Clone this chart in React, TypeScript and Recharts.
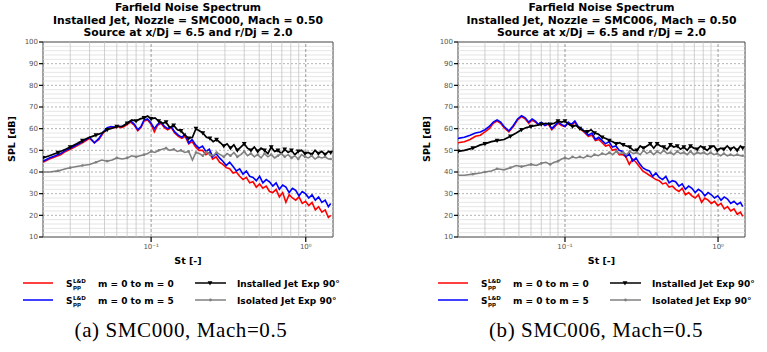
import React from "react";
import { LineChart, Line, XAxis, YAxis, ReferenceLine, ReferenceArea } from "recharts";

// Strouhal numbers of the computed (narrowband) spectra
const ST_SIM = [
  0.02, 0.022, 0.024, 0.026, 0.028, 0.03, 0.032, 0.034, 0.036, 0.038, 0.04, 0.043, 0.046, 0.049,
  0.052, 0.055, 0.058, 0.061, 0.064, 0.067, 0.07, 0.074, 0.078, 0.082, 0.086, 0.09, 0.095, 0.1,
  0.105, 0.11, 0.116, 0.122, 0.128, 0.135, 0.142, 0.15, 0.158, 0.166, 0.175, 0.184, 0.194, 0.204,
  0.215, 0.226, 0.238, 0.25, 0.263, 0.277, 0.291, 0.306, 0.322, 0.339, 0.356, 0.374, 0.393, 0.413,
  0.434, 0.456, 0.479, 0.503, 0.528, 0.555, 0.583, 0.612, 0.643, 0.675, 0.709, 0.744, 0.781, 0.82,
  0.861, 0.904, 0.949, 0.996, 1.046, 1.098, 1.153, 1.211, 1.271, 1.335, 1.4, 1.45,
];

// Strouhal numbers of the measured spectra
const ST_EXP = [
  0.02, 0.022, 0.025, 0.028, 0.03, 0.033, 0.036, 0.04, 0.044, 0.048, 0.052, 0.056, 0.06, 0.065,
  0.07, 0.075, 0.08, 0.085, 0.09, 0.095, 0.1, 0.106, 0.112, 0.118, 0.125, 0.132, 0.14, 0.148,
  0.156, 0.165, 0.175, 0.185, 0.195, 0.205, 0.216, 0.228, 0.24, 0.252, 0.265, 0.28, 0.295, 0.31,
  0.326, 0.343, 0.361, 0.38, 0.4, 0.42, 0.442, 0.465, 0.489, 0.514, 0.541, 0.569, 0.598, 0.629,
  0.661, 0.695, 0.731, 0.769, 0.808, 0.85, 0.894, 0.94, 0.988, 1.039, 1.092, 1.148, 1.207, 1.269,
  1.334, 1.402, 1.45,
];

// SMC000
const SMC000_M0 = [
  44.5, 46, 47, 48, 49.5, 50.5, 51.5, 52.5, 53.5, 54.5, 55.5, 53.5, 55, 58, 60, 60.5, 60.5, 61,
  60.5, 61, 62, 63, 61.5, 59, 60.5, 63.5, 64, 62, 58.5, 61.5, 62.5, 60.5, 59.5, 60.5, 58, 56.5,
  55.5, 56.5, 53, 54, 51.5, 50, 50, 48, 49, 46, 47, 44.5, 43.5, 42, 41.5, 39.5, 40, 38, 36.5, 37.5,
  35, 35.5, 33, 34.5, 32.5, 33.5, 31, 30.5, 32, 28.5, 30.5, 26, 29.5, 28, 27, 28.5, 25.5, 26.5,
  24.5, 26, 22.5, 24, 21.5, 22.5, 19, 20,
];
const SMC000_M5 = [
  45, 46.5, 47.5, 48.5, 50, 51, 52, 53, 54, 55, 56, 53.5, 55.5, 58.5, 60.5, 61, 60.8, 61.2, 60.9,
  61.5, 62.5, 63.5, 62, 59.5, 61, 64, 64.5, 62.5, 60, 62, 63, 61, 60, 61, 58.5, 57, 56, 57.5, 53.5,
  55, 52.5, 51, 52, 49.5, 50.5, 47, 48.5, 46.5, 45, 43, 44.5, 42.5, 40.5, 41.5, 39, 40.5, 38, 37.5,
  36, 38, 35, 36.5, 35.5, 33.5, 35, 32, 34, 33, 30.5, 32.5, 31.5, 29, 31, 30, 28, 29.5, 27, 28.5,
  26, 27, 24, 25.5,
];
const SMC000_INSTALLED = [
  46.5, 47.5, 49, 50.5, 51.5, 53, 54.5, 56, 57, 58, 59.5, 60.2, 61, 61, 62.5, 64, 63.5, 64.5, 65,
  65.8, 64.5, 65, 63.5, 62.5, 63, 60.5, 61.5, 59.5, 59, 57, 55.5, 56, 60, 59, 58, 56, 55.5, 54, 55,
  53.5, 52, 53, 51, 52.5, 50, 51.5, 53, 51, 50, 51.5, 49.5, 51, 50, 48.5, 51.5, 49.5, 50, 48.5,
  50.5, 49, 50, 48, 49.5, 50, 48.5, 49, 48, 50, 48.5, 49.5, 48, 49.5, 49,
];
const SMC000_ISOLATED = [
  40, 40, 40.5, 41.5, 42, 42.5, 43, 43.5, 44.5, 45.5, 45, 45.5, 46.5, 46, 46.5, 47.5, 47, 47.5, 48,
  48.5, 49.5, 49, 50, 50.5, 51, 50, 50.5, 49.5, 50, 49, 49.5, 45.5, 49, 48.5, 47.5, 49.5, 48, 47.5,
  49, 48, 47, 48.5, 47.5, 49, 47, 48, 49.5, 47.5, 48.5, 47, 48, 46.5, 48.5, 47, 48, 46.5, 47.5,
  48.5, 47, 48, 46.5, 47.5, 46, 48, 47, 46.5, 47.5, 46, 47, 46.5, 47, 46, 46,
];

// SMC006
const SMC006_M0 = [
  53.5, 54, 55, 56.5, 57, 58.5, 60, 62.5, 63.5, 62.5, 60.5, 58.5, 61, 64, 65.5, 64.5, 62.5, 64, 63,
  62, 62.5, 61.5, 62, 59.5, 61, 62.5, 61.5, 61, 62.5, 61.5, 63, 60.5, 59.5, 58, 56.5, 57, 54.5, 55,
  53.5, 52, 52.5, 50, 50.5, 48, 48, 47, 43.5, 46, 44.5, 42.5, 40.5, 39.5, 38.5, 37.5, 36.5, 36,
  34.5, 35, 33, 33.5, 32, 31, 32.5, 29.5, 30.5, 29, 28, 29.5, 26, 28, 27, 25.5, 26.5, 24.5, 25.5,
  23, 24, 22, 23, 20.5, 21.5, 19.5,
];
const SMC006_M5 = [
  55.5, 56, 57, 58, 58.5, 59.5, 61, 63, 64, 63, 61, 59, 61.5, 64.5, 66, 65, 63, 64.5, 63.5, 62, 63,
  61.5, 62.5, 60, 61.5, 63, 62, 61, 63, 62, 63.5, 61, 60, 58.5, 57, 58, 55, 56, 54.5, 53, 54, 51.5,
  52, 50, 49.5, 47, 48.5, 45, 46.5, 44, 42, 41, 40.5, 38, 39.5, 37.5, 36.5, 38, 35, 36, 35.5, 33.5,
  34.5, 32, 33.5, 32.5, 30.5, 32, 31, 29, 30.5, 29.5, 28, 29, 27, 28.5, 27.5, 25.5, 26.5, 25, 26,
  24,
];
const SMC006_INSTALLED = [
  49.5, 50, 51, 52.5, 53, 54, 54.5, 55, 56.5, 58, 59.5, 60.5, 61, 61.5, 62, 62.5, 62, 62.5, 63.5,
  63, 63.5, 62, 61, 61.5, 60, 59, 58.5, 59.5, 58, 57.5, 56, 55.5, 54.5, 54, 53, 53.5, 52.5, 52,
  51.5, 50, 50, 52, 51, 52, 53, 51, 53, 52, 51.5, 50.5, 52.5, 51.5, 52, 50.5, 51.5, 50, 52, 51,
  50.5, 52, 51, 50, 51.5, 52, 50, 51, 50.5, 52, 50.5, 51.5, 50, 52, 51,
];
const SMC006_ISOLATED = [
  38.5, 38.5, 39, 39.5, 40, 40.5, 41.5, 41, 42, 43, 42.5, 43, 43.5, 43, 44, 44.5, 43.5, 44.5, 45,
  46, 46.5, 46, 47, 46.5, 47, 46.5, 47.5, 47, 48, 47.5, 48.5, 48, 49, 48, 49.5, 48.5, 49, 48, 49.5,
  48.5, 49, 48, 50, 48.5, 49.5, 48, 49.5, 48.5, 50, 48.5, 49, 48, 49.5, 48.5, 49, 48, 49.5, 48, 49,
  48.5, 49, 48, 49, 48, 48.5, 47.5, 48.5, 47.5, 48, 47.5, 48, 47.5, 47.5,
];

const ST_DOMAIN: [number, number] = [0.02, 1.5];
const ST_MAJOR = [0.1, 1];
const ST_MINOR = [0.03, 0.04, 0.05, 0.06, 0.07, 0.08, 0.09, 0.2, 0.3, 0.4, 0.5, 0.6, 0.7, 0.8, 0.9];
const SPL_TICKS = [10, 20, 30, 40, 50, 60, 70, 80, 90, 100];
const SPL_MINOR = SPL_TICKS.slice(0, -1).flatMap((v) => [v + 2, v + 4, v + 6, v + 8]);

const SANS = "'DejaVu Sans', sans-serif";
const RED = "#ff0000";
const BLUE = "#0000ff";
const BLACK = "#000000";
const GREY = "#808080";

const toPoints = (st: number[], spl: number[]) => st.map((s, i) => ({ st: s, spl: spl[i] }));

const superTick = (v: number) => (v === 1 ? "10\u2070" : "10\u207b\u00b9");

function TriangleDot(props: any) {
  const { cx, cy, index } = props;
  if (index % 2 !== 0 || cx == null) return <g key={`t${index}`} />;
  return (
    <path
      key={`t${index}`}
      d={`M${cx - 2.4},${cy - 1.8} L${cx + 2.4},${cy - 1.8} L${cx},${cy + 2.4} Z`}
      fill={BLACK}
    />
  );
}

function SmallDot(props: any) {
  const { cx, cy, index } = props;
  if (index % 2 !== 0 || cx == null) return <g key={`d${index}`} />;
  return <circle key={`d${index}`} cx={cx} cy={cy} r={1.3} fill={GREY} />;
}

function LegendEntry({ y, label }: { y: number; label: string }) {
  return (
    <g fontFamily={SANS} fontWeight="bold" fill="#000">
      <text x={66} y={y + 3.5} fontSize={9}>S</text>
      <text x={73} y={y - 0.5} fontSize={5.5}>L&amp;D</text>
      <text x={73} y={y + 6} fontSize={5.5}>pp</text>
      <text x={98} y={y + 3.5} fontSize={9}>{label}</text>
    </g>
  );
}

type PanelProps = {
  left: number;
  rightMargin: number;
  nozzle: string;
  tag: string;
  m0: number[];
  m5: number[];
  installed: number[];
  isolated: number[];
};

function SpectrumPanel({ left, rightMargin, nozzle, tag, m0, m5, installed, isolated }: PanelProps) {
  const W = 383;
  const plotLeft = 43;
  const plotRight = W - rightMargin;
  const cx = (plotLeft + plotRight) / 2;
  return (
    <div style={{ position: "absolute", left, top: 0, width: W, height: 352 }}>
      <LineChart width={W} height={270} margin={{ top: 42, right: rightMargin, bottom: 0, left: 0 }}>
        <XAxis
          type="number"
          dataKey="st"
          scale="log"
          domain={ST_DOMAIN}
          allowDataOverflow
          ticks={ST_MAJOR}
          tickFormatter={superTick}
          height={33}
          axisLine={false}
          tickSize={5}
          tickLine={{ stroke: "#000", strokeWidth: 1.2 }}
          tick={{ fill: "#555", fontSize: 7, fontFamily: SANS }}
        />
        <YAxis
          type="number"
          dataKey="spl"
          domain={[10, 100]}
          ticks={SPL_TICKS}
          width={43}
          axisLine={false}
          tickSize={4}
          tickMargin={1}
          tickLine={{ stroke: "#000", strokeWidth: 1.2 }}
          tick={{ fill: "#555", fontSize: 7, fontFamily: SANS }}
        />
        {SPL_MINOR.map((v) => (
          <ReferenceLine key={`h${v}`} y={v} stroke="#dedede" strokeWidth={0.8} />
        ))}
        {SPL_TICKS.map((v) => (
          <ReferenceLine key={`H${v}`} y={v} stroke="#a0a0a0" strokeWidth={0.8} strokeDasharray="2 2" />
        ))}
        {ST_MINOR.map((v) => (
          <ReferenceLine key={`v${v}`} x={v} stroke="#c4c4c4" strokeWidth={0.8} />
        ))}
        {ST_MAJOR.map((v) => (
          <ReferenceLine key={`V${v}`} x={v} stroke="#808080" strokeWidth={0.8} strokeDasharray="3 2" />
        ))}
        <ReferenceArea x1={0.02} x2={1.5} y1={10} y2={100} fill="none" stroke="#444" strokeWidth={1} />
        <Line
          data={toPoints(ST_SIM, m0)}
          dataKey="spl"
          stroke={RED}
          strokeWidth={1.6}
          dot={false}
          isAnimationActive={false}
        />
        <Line
          data={toPoints(ST_SIM, m5)}
          dataKey="spl"
          stroke={BLUE}
          strokeWidth={1.6}
          dot={false}
          isAnimationActive={false}
        />
        <Line
          data={toPoints(ST_EXP, installed)}
          dataKey="spl"
          stroke={BLACK}
          strokeWidth={1.7}
          dot={TriangleDot}
          isAnimationActive={false}
        />
        <Line
          data={toPoints(ST_EXP, isolated)}
          dataKey="spl"
          stroke={GREY}
          strokeWidth={1.6}
          dot={SmallDot}
          isAnimationActive={false}
        />
      </LineChart>

      <svg
        width={W}
        height={352}
        style={{ position: "absolute", left: 0, top: 0, pointerEvents: "none" }}
      >
        <g fontFamily={SANS} fontWeight="bold" fontSize={10.8} textAnchor="middle" fill="#000">
          <text x={cx} y={11}>Farfield Noise Spectrum</text>
          <text x={cx} y={24}>{`Installed Jet,  Nozzle = ${nozzle},  Mach = 0.50`}</text>
          <text x={cx} y={36}>Source at x/Dj = 6.5 and r/Dj = 2.0</text>
        </g>
        <text
          transform="translate(15,139) rotate(-90)"
          textAnchor="middle"
          fontFamily={SANS}
          fontWeight="bold"
          fontSize={9.5}
        >
          SPL [dB]
        </text>
        <text x={cx} y={264} textAnchor="middle" fontFamily={SANS} fontWeight="bold" fontSize={9.5}>
          St [-]
        </text>

        <line x1={23} x2={53} y1={283} y2={283} stroke={RED} strokeWidth={1.5} />
        <LegendEntry y={283} label="m = 0 to m = 0" />
        <line x1={23} x2={53} y1={300} y2={300} stroke={BLUE} strokeWidth={1.5} />
        <LegendEntry y={300} label="m = 0 to m = 5" />

        <line x1={195} x2={226} y1={283} y2={283} stroke={BLACK} strokeWidth={1.5} />
        <path d="M207.6,281.2 L212.4,281.2 L210,285.6 Z" fill={BLACK} />
        <line x1={195} x2={226} y1={300} y2={300} stroke={GREY} strokeWidth={1.5} />
        <circle cx={210.5} cy={300} r={1.4} fill={GREY} />
        <g fontFamily={SANS} fontWeight="bold" fontSize={9}>
          <text x={237} y={286.5}>Installed Jet Exp 90°</text>
          <text x={237} y={303.5}>Isolated Jet Exp 90°</text>
        </g>

        <text
          x={181}
          y={337}
          textAnchor="middle"
          fontFamily="'Liberation Serif', serif"
          fontSize={21}
          letterSpacing={0.6}
        >
          {`(${tag}) ${nozzle}, Mach=0.5`}
        </text>
      </svg>
    </div>
  );
}

export default function App() {
  return (
    <div
      style={{
        position: "absolute",
        left: 0,
        top: 0,
        width: 767,
        height: 352,
        background: "#fff",
        overflow: "hidden",
      }}
    >
      <SpectrumPanel
        left={0}
        rightMargin={50}
        nozzle="SMC000"
        tag="a"
        m0={SMC000_M0}
        m5={SMC000_M5}
        installed={SMC000_INSTALLED}
        isolated={SMC000_ISOLATED}
      />
      <SpectrumPanel
        left={415}
        rightMargin={53}
        nozzle="SMC006"
        tag="b"
        m0={SMC006_M0}
        m5={SMC006_M5}
        installed={SMC006_INSTALLED}
        isolated={SMC006_ISOLATED}
      />
    </div>
  );
}
